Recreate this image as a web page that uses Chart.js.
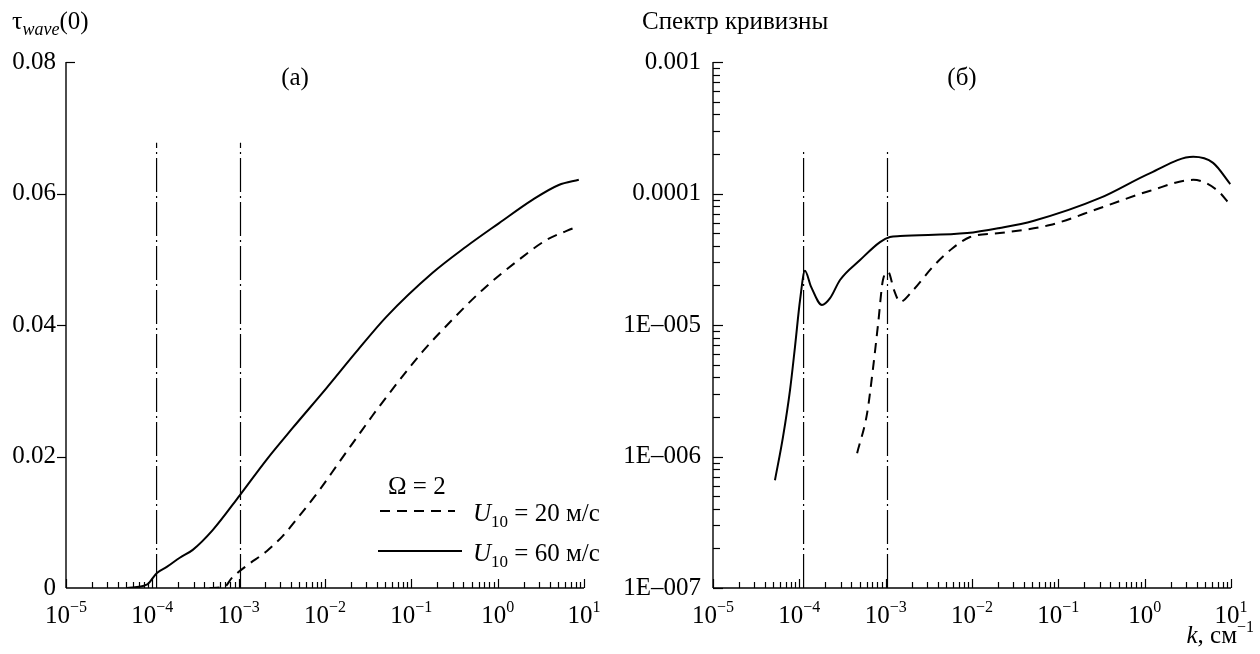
<!DOCTYPE html>
<html>
<head>
<meta charset="utf-8">
<script src="https://cdn.jsdelivr.net/npm/chart.js@4.4.0/dist/chart.umd.min.js"></script>
<style>
  body { margin: 0; background: #fff; width: 1260px; height: 654px; overflow: hidden; position: relative; }
  canvas { position: absolute; top: 0; }
</style>
</head>
<body>
<canvas id="left" width="630" height="654" style="left:0"></canvas>
<canvas id="right" width="670" height="654" style="left:590px"></canvas>
<script>
// (а) tau_wave(0) против k
var leftK60 = [5.1e-5, 8.6e-5, 1.13e-4, 1.47e-4, 2.08e-4, 2.94e-4, 5.0e-4, 1.03e-3, 2.1e-3, 4.2e-3, 1.04e-2, 2.3e-2, 5.1e-2, 0.175, 0.43, 1.04, 2.5, 5.1, 8.7];
var leftTau60 = [0, 0.0005, 0.0023, 0.0032, 0.0046, 0.0058, 0.0088, 0.0141, 0.0195, 0.0243, 0.0304, 0.0359, 0.0412, 0.0479, 0.0519, 0.0555, 0.0590, 0.0613, 0.0621];
var leftK20 = [4.6e-4, 6.9e-4, 8.3e-4, 1.24e-3, 2.11e-3, 3.23e-3, 5.07e-3, 8.63e-3, 1.47e-2, 2.31e-2, 3.54e-2, 6.71e-2, 0.134, 0.298, 0.662, 1.64, 3.64, 8.09];
var leftTau20 = [0, 0.0002, 0.0015, 0.0034, 0.0056, 0.0079, 0.0110, 0.0149, 0.0192, 0.0228, 0.0262, 0.0310, 0.0359, 0.0408, 0.0453, 0.0496, 0.0529, 0.0549];

// (б) спектр кривизны
var rightK60 = [5.22e-5, 6.47e-5, 7.8e-5, 8.9e-5, 1.02e-4, 1.16e-4, 1.37e-4, 1.83e-4, 2.27e-4, 2.96e-4, 5.05e-4, 8.6e-4, 1.12e-3, 1.47e-3, 8.8e-3, 2.1e-2, 5.1e-2, 0.305, 1.16, 3.65, 6.2, 9.8];
var rightS60 = [6.6e-7, 1.41e-6, 3.2e-6, 6.8e-6, 1.55e-5, 2.58e-5, 1.95e-5, 1.42e-5, 1.6e-5, 2.2e-5, 3.12e-5, 4.27e-5, 4.67e-5, 4.75e-5, 5.0e-5, 5.47e-5, 6.18e-5, 9.25e-5, 1.43e-4, 1.90e-4, 1.71e-4, 1.18e-4];
var rightK20 = [4.67e-4, 6.1e-4, 7.1e-4, 8.2e-4, 9.3e-4, 1.07e-3, 1.25e-3, 1.47e-3, 2.08e-3, 3.5e-3, 6.0e-3, 9.5e-3, 2.1e-2, 8.0e-2, 0.305, 1.16, 3.65, 6.9, 9.8];
var rightS20 = [1.06e-6, 2.14e-6, 4.55e-6, 1.04e-5, 2.2e-5, 2.53e-5, 1.84e-5, 1.50e-5, 1.84e-5, 2.76e-5, 3.85e-5, 4.67e-5, 5.0e-5, 5.76e-5, 7.76e-5, 1.05e-4, 1.27e-4, 1.06e-4, 8.2e-5];

// вертикальные штрих-пунктирные линии
var markerK = [1.12e-4, 1.05e-3];
var leftMarkerTop = 0.0677;
var rightMarkerTop = 2.1e-4;

// подписи осей
var xTickExps = [-5, -4, -3, -2, -1, 0, 1];
var leftYTicks = [0, 0.02, 0.04, 0.06, 0.08];
var leftYLabels = ['0', '0.02', '0.04', '0.06', '0.08'];
var rightYTicks = [1e-7, 1e-6, 1e-5, 1e-4, 1e-3];
var rightYLabels = ['1E\u2013007', '1E\u2013006', '1E\u2013005', '0.0001', '0.001'];

var serif = '"Liberation Serif", "Times New Roman", serif';

function pts(xs, ys) {
    return xs.map(function (x, i) { return { x: x, y: ys[i] }; });
}

function markerSets(bottom, top) {
    return markerK.map(function (k) {
        return {
            data: [{ x: k, y: bottom }, { x: k, y: top }],
            borderColor: '#000', borderWidth: 1.2, borderDash: [34, 4, 2, 4],
            pointRadius: 0, tension: 0
        };
    });
}

function curve(data, dashed) {
    return {
        data: data,
        borderColor: '#000', borderWidth: 2,
        borderDash: dashed ? [10, 7] : [],
        pointRadius: 0,
        cubicInterpolationMode: 'monotone'
    };
}

function setFont(ctx, size, italic) {
    ctx.font = (italic ? 'italic ' : '') + size + 'px ' + serif;
}

// текст из кусков (индексы, курсив)
function rich(ctx, parts, x, y, align) {
    var w = 0;
    parts.forEach(function (p) { setFont(ctx, p.s, p.i); w += ctx.measureText(p.t).width; });
    var cx = align === 'center' ? x - w / 2 : (align === 'right' ? x - w : x);
    ctx.textAlign = 'left';
    ctx.textBaseline = 'alphabetic';
    parts.forEach(function (p) {
        setFont(ctx, p.s, p.i);
        ctx.fillText(p.t, cx, y + (p.dy || 0));
        cx += ctx.measureText(p.t).width;
    });
}

function seg(ctx, x1, y1, x2, y2) {
    ctx.beginPath(); ctx.moveTo(x1, y1); ctx.lineTo(x2, y2); ctx.stroke();
}

var decor = {
    id: 'decor',
    afterDraw: function (chart, args, opts) {
        var ctx = chart.ctx, xs = chart.scales.x, ys = chart.scales.y, a = chart.chartArea;
        ctx.save();
        ctx.strokeStyle = '#000';
        ctx.fillStyle = '#000';
        ctx.lineWidth = 1.4;
        ctx.setLineDash([]);
        // оси
        seg(ctx, a.left, a.top, a.left, a.bottom);
        seg(ctx, a.left, a.bottom, a.right, a.bottom);
        // засечки по x внутрь
        ctx.lineWidth = 1.2;
        for (var e = -5; e <= 1; e++) {
            for (var m = 1; m <= 9; m++) {
                var v = m * Math.pow(10, e);
                if (v > xs.max * 1.0001) break;
                var px = Math.round(xs.getPixelForValue(v)) + 0.5;
                seg(ctx, px, a.bottom, px, a.bottom - (m === 1 ? 9 : 6));
            }
        }
        // подписи по x
        xTickExps.forEach(function (e) {
            var ex = e < 0 ? '\u2212' + (-e) : String(e);
            rich(ctx, [{ t: '10', s: 25 }, { t: ex, s: 16, dy: -11 }], xs.getPixelForValue(Math.pow(10, e)), 623, 'center');
        });
        opts.draw(ctx, xs, ys, a);
        ctx.restore();
    }
};

function baseScales(yOpts, yWidth) {
    return {
        x: {
            type: 'logarithmic', min: 1e-5, max: 10,
            grid: { display: false }, border: { display: false },
            ticks: { display: false },
            afterFit: function (s) { s.height = 66; }
        },
        y: Object.assign({
            grid: { display: false, drawTicks: false }, border: { display: false },
            afterFit: function (s) { s.width = yWidth; }
        }, yOpts)
    };
}

var leftChart = new Chart(document.getElementById('left'), {
    type: 'line',
    data: {
        datasets: [
            curve(pts(leftK60, leftTau60), false),
            curve(pts(leftK20, leftTau20), true)
        ].concat(markerSets(0, leftMarkerTop))
    },
    options: {
        responsive: false, animation: false,
        layout: { padding: { top: 62, right: 46, left: 0, bottom: 0 } },
        plugins: {
            legend: { display: false }, tooltip: { enabled: false },
            decor: {
                draw: function (ctx, xs, ys, a) {
                    ctx.lineWidth = 1.2;
                    leftYTicks.forEach(function (v) {
                        if (v === 0) return;
                        var py = Math.round(ys.getPixelForValue(v)) + 0.5;
                        if (v === 0.08) seg(ctx, a.left, py, a.left + 9, py);
                        else seg(ctx, a.left, py, a.left - 9, py);
                    });
                    rich(ctx, [{ t: '\u03c4', s: 26 }, { t: 'wave', s: 18, i: true, dy: 6 }, { t: '(0)', s: 25 }], 12, 29, 'left');
                    rich(ctx, [{ t: '(\u0430)', s: 25 }], 295, 85, 'center');
                    // легенда
                    rich(ctx, [{ t: '\u03a9 = 2', s: 25 }], 388, 494, 'left');
                    ctx.lineWidth = 2;
                    ctx.setLineDash([10, 7]);
                    seg(ctx, 380, 511, 455, 511);
                    ctx.setLineDash([]);
                    seg(ctx, 378, 551, 462, 551);
                    rich(ctx, [{ t: 'U', s: 25, i: true }, { t: '10', s: 17, dy: 6 }, { t: ' = 20 \u043c/\u0441', s: 25 }], 473, 521, 'left');
                    rich(ctx, [{ t: 'U', s: 25, i: true }, { t: '10', s: 17, dy: 6 }, { t: ' = 60 \u043c/\u0441', s: 25 }], 473, 561, 'left');
                }
            }
        },
        scales: baseScales({
            type: 'linear', min: 0, max: 0.08,
            afterBuildTicks: function (s) { s.ticks = leftYTicks.map(function (v) { return { value: v }; }); },
            ticks: {
                autoSkip: false, padding: 10, color: '#000',
                font: { family: serif, size: 25 },
                callback: function (v, i) { return leftYLabels[i]; }
            }
        }, 66)
    },
    plugins: [decor]
});

var rightChart = new Chart(document.getElementById('right'), {
    type: 'line',
    data: {
        datasets: [
            curve(pts(rightK60, rightS60), false),
            curve(pts(rightK20, rightS20), true)
        ].concat(markerSets(1e-7, rightMarkerTop))
    },
    options: {
        responsive: false, animation: false,
        layout: { padding: { top: 62, right: 29, left: 0, bottom: 0 } },
        plugins: {
            legend: { display: false }, tooltip: { enabled: false },
            decor: {
                draw: function (ctx, xs, ys, a) {
                    ctx.lineWidth = 1.2;
                    for (var e = -7; e <= -3; e++) {
                        for (var m = 1; m <= 9; m++) {
                            var v = m * Math.pow(10, e);
                            if (v > ys.max * 1.0001) break;
                            var py = Math.round(ys.getPixelForValue(v)) + 0.5;
                            seg(ctx, a.left, py, a.left + (m === 1 ? 10 : 7), py);
                        }
                    }
                    rich(ctx, [{ t: '\u0421\u043f\u0435\u043a\u0442\u0440 \u043a\u0440\u0438\u0432\u0438\u0437\u043d\u044b', s: 25 }], 52, 29, 'left');
                    rich(ctx, [{ t: '(\u0431)', s: 25 }], 372, 85, 'center');
                    rich(ctx, [{ t: 'k', s: 25, i: true }, { t: ', \u0441\u043c', s: 25 }, { t: '\u22121', s: 16, dy: -11 }], 664, 643, 'right');
                }
            }
        },
        scales: baseScales({
            type: 'logarithmic', min: 1e-7, max: 1e-3,
            afterBuildTicks: function (s) { s.ticks = rightYTicks.map(function (v) { return { value: v }; }); },
            ticks: {
                autoSkip: false, padding: 12, color: '#000',
                font: { family: serif, size: 25 },
                callback: function (v, i) { return rightYLabels[i]; }
            }
        }, 123)
    },
    plugins: [decor]
});
</script>
</body>
</html>
